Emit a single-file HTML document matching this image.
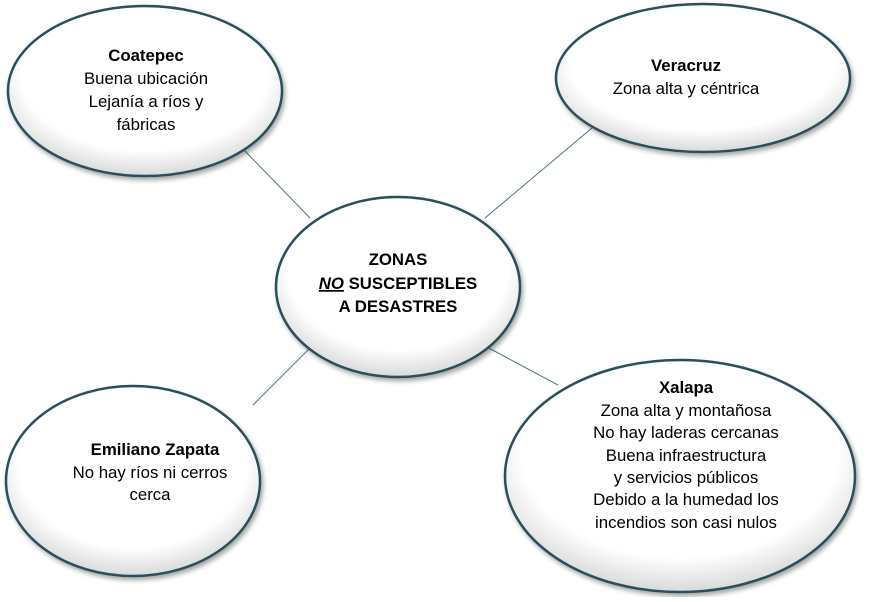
<!DOCTYPE html>
<html><head><meta charset="utf-8"><style>
body{margin:0;background:#fff;}
svg text{font-family:"Liberation Sans",Calibri,sans-serif;font-size:16.8px;fill:#000;}
</style></head><body>
<svg width="880" height="597" viewBox="0 0 880 597" xmlns="http://www.w3.org/2000/svg">
<defs>
<radialGradient id="g" cx="50%" cy="40%" r="60%">
<stop offset="0.75" stop-color="#fff"/><stop offset="1" stop-color="#d9d9d9"/>
</radialGradient>
<filter id="s" x="-10%" y="-10%" width="125%" height="125%"><feDropShadow dx="2" dy="3" stdDeviation="2.5" flood-color="#000" flood-opacity="0.35"/></filter>
</defs>
<g stroke="#4a7480" stroke-width="1">
<line x1="243" y1="149" x2="310" y2="218"/>
<line x1="485" y1="218" x2="592" y2="128"/>
<line x1="253" y1="405" x2="312" y2="346"/>
<line x1="485" y1="346" x2="558" y2="385"/>
</g>
<g fill="url(#g)" stroke="#2a4f5c" stroke-width="2.5" filter="url(#s)">
<ellipse cx="145" cy="91" rx="137" ry="85"/>
<ellipse cx="703" cy="78" rx="147" ry="74"/>
<ellipse cx="398" cy="287" rx="122" ry="90"/>
<ellipse cx="133" cy="481" rx="127" ry="95"/>
<ellipse cx="680" cy="476" rx="175" ry="116"/>
</g>
<g text-anchor="middle">
<text x="146" y="61" font-weight="bold">Coatepec</text>
<text x="146" y="84">Buena ubicación</text>
<text x="146" y="107">Lejanía a ríos y</text>
<text x="146" y="130">fábricas</text>
<text x="686" y="71" font-weight="bold">Veracruz</text>
<text x="686" y="94">Zona alta y céntrica</text>
<text x="398" y="265" font-weight="bold">ZONAS</text>
<text x="398" y="289" font-weight="bold"><tspan font-style="italic" text-decoration="underline">NO</tspan> SUSCEPTIBLES</text>
<text x="398" y="312" font-weight="bold">A DESASTRES</text>
<text x="155" y="455" font-weight="bold">Emiliano Zapata</text>
<text x="150" y="478">No hay ríos  ni cerros</text>
<text x="150" y="500">cerca</text>
<text x="686" y="393" font-weight="bold">Xalapa</text>
<text x="686" y="416">Zona alta y montañosa</text>
<text x="686" y="438">No hay laderas cercanas</text>
<text x="686" y="461">Buena infraestructura</text>
<text x="686" y="483">y servicios públicos</text>
<text x="686" y="505">Debido a la humedad los</text>
<text x="686" y="528">incendios son casi nulos</text>
</g>
</svg>
</body></html>
